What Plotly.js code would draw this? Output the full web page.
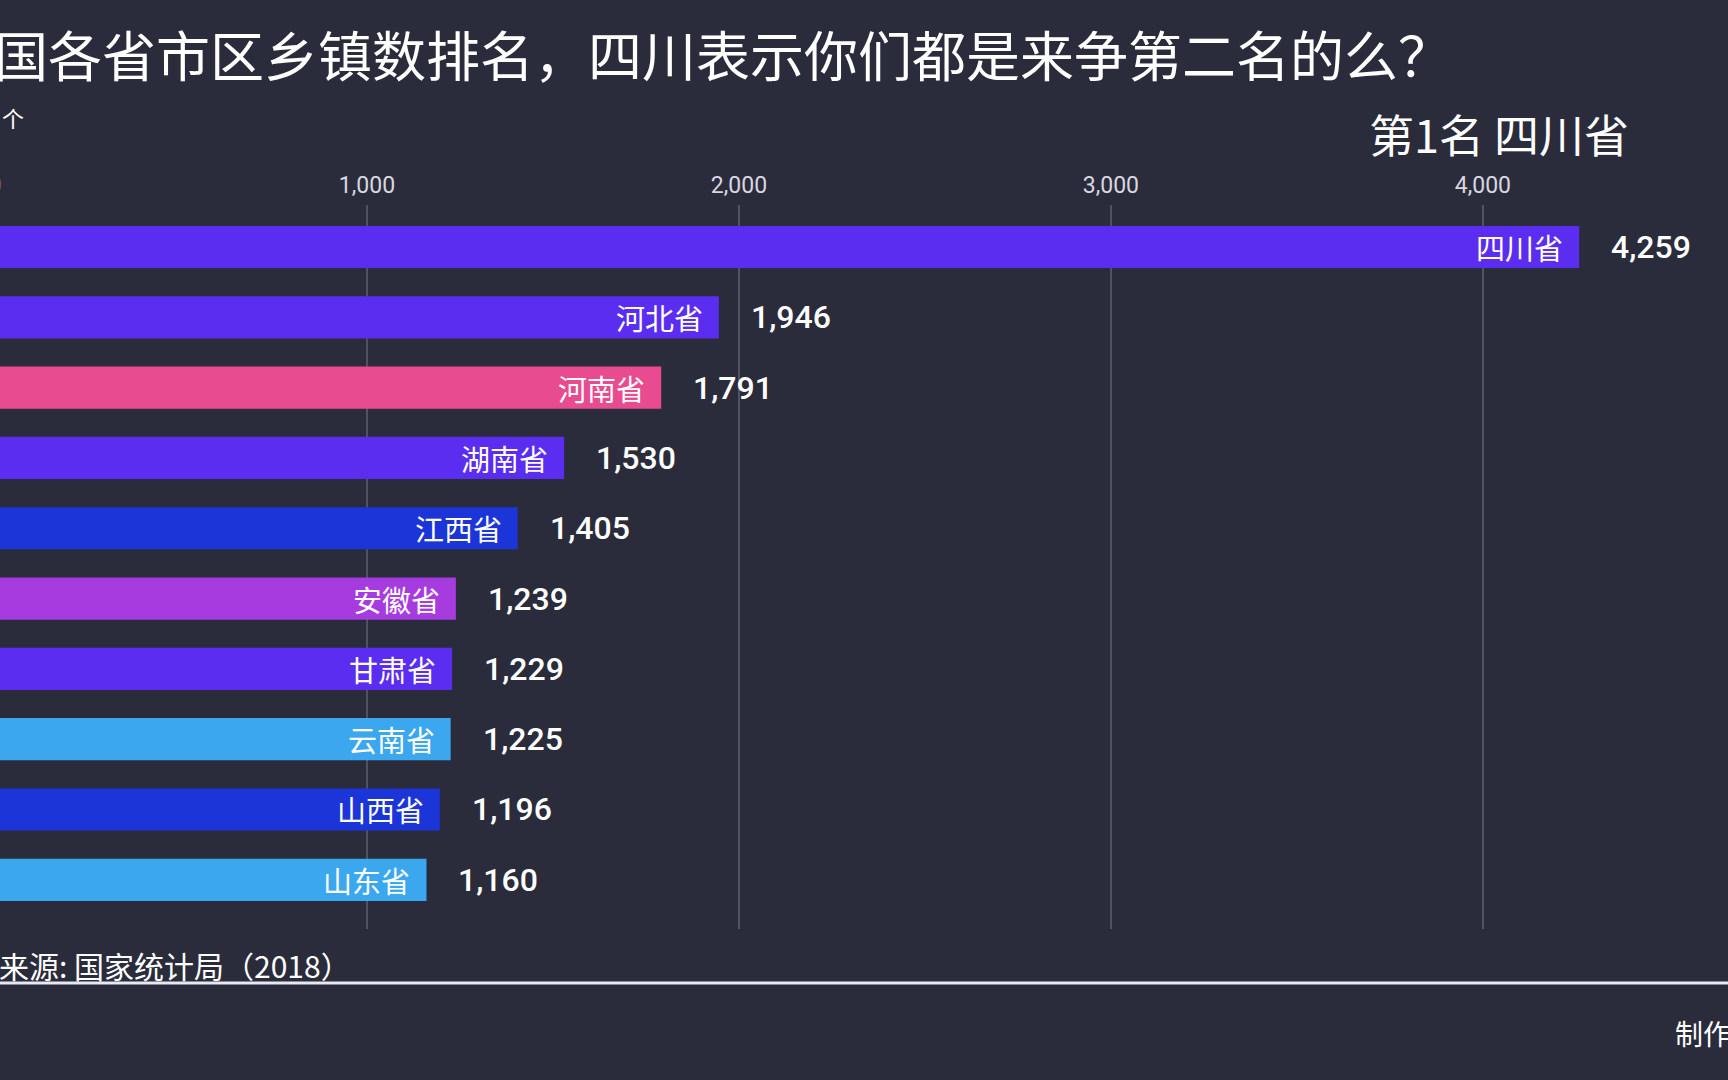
<!DOCTYPE html>
<html>
<head>
<meta charset="utf-8">
<script src="https://cdn.plot.ly/plotly-3.0.1.min.js"></script>
<style>
  html, body { margin: 0; padding: 0; background: #2b2c3b; overflow: hidden; }
  #chart { position: absolute; left: -30px; top: 0; width: 1758px; height: 1080px; }
</style>
</head>
<body>
<div id="chart"></div>
<script>
// 乡镇数 by province (2018)
var provinces = ["四川省", "河北省", "河南省", "湖南省", "江西省", "安徽省", "甘肃省", "云南省", "山西省", "山东省"];
var towns = [4259, 1946, 1791, 1530, 1405, 1239, 1229, 1225, 1196, 1160];
var barColors = ["#5a2df0", "#5a2df0", "#e84b8f", "#5a2df0", "#1b35d8",
                 "#a63be0", "#5a2df0", "#3aa7ee", "#1b35d8", "#3aa7ee"];
var tickVals = [0, 1000, 2000, 3000, 4000];

var cjk = "Noto Sans CJK SC";
var num = "Roboto";

// page pixel -> paper coords (plot area: x -5..1728, y 205..929)
function px(x) { return (x + 5) / 1733; }
function py(y) { return (929 - y) / 724; }

var trace = {
    x: towns,
    y: provinces,
    type: "bar",
    orientation: "h",
    width: 0.6,
    marker: {color: barColors},
    hoverinfo: "none"
};

var annotations = [];
provinces.forEach(function(p, i) {
    annotations.push({
        x: towns[i], y: p, xref: "x", yref: "y",
        text: p, showarrow: false, xanchor: "right", xshift: -14,
        font: {family: cjk, size: 29, color: "#ffffff"}
    });
    annotations.push({
        x: towns[i], y: p, xref: "x", yref: "y",
        text: towns[i].toLocaleString("en-US"), showarrow: false,
        xanchor: "left", xshift: 30,
        font: {family: num, size: 32, color: "#ffffff", weight: 500}
    });
});

annotations.push({
    x: px(-8), y: py(53), xref: "paper", yref: "paper",
    text: "国各省市区乡镇数排名，四川表示你们都是来争第二名的么？",
    showarrow: false, xanchor: "left", yanchor: "middle",
    font: {family: cjk, size: 54, color: "#ffffff"}
});
annotations.push({
    x: px(0), y: py(117), xref: "paper", yref: "paper",
    text: "个", showarrow: false, xanchor: "left", yanchor: "middle",
    font: {family: cjk, size: 22, color: "#ffffff"}
});
annotations.push({
    x: px(1631), y: py(134), xref: "paper", yref: "paper",
    text: "第1名 四川省", showarrow: false, xanchor: "right", yanchor: "middle",
    font: {family: cjk, size: 45, color: "#ffffff"}
});
annotations.push({
    x: px(-3), y: py(965), xref: "paper", yref: "paper",
    text: "来源: 国家统计局（2018）", showarrow: false, xanchor: "left", yanchor: "middle",
    font: {family: cjk, size: 30, color: "#ffffff"}
});
annotations.push({
    x: px(1673), y: py(1033), xref: "paper", yref: "paper",
    text: "制作", showarrow: false, xanchor: "left", yanchor: "middle",
    font: {family: cjk, size: 28, color: "#ffffff"}
});

var layout = {
    width: 1758,
    height: 1080,
    margin: {l: 25, r: 0, t: 205, b: 151, pad: 0},
    paper_bgcolor: "#2b2c3b",
    plot_bgcolor: "#2b2c3b",
    showlegend: false,
    xaxis: {
        range: [0, 4659],
        side: "top",
        tickvals: tickVals,
        tickformat: ",d",
        ticks: "",
        ticklabelstandoff: 6,
        tickfont: {family: num, size: 23, color: "#d8d8e0"},
        showgrid: true,
        gridcolor: "#50525f",
        gridwidth: 1.5,
        zeroline: false,
        showline: false,
        fixedrange: true
    },
    yaxis: {
        type: "category",
        range: [9.70, -0.597],
        visible: false,
        fixedrange: true
    },
    shapes: [{
        type: "line", xref: "paper", yref: "paper",
        x0: -0.05, x1: 1.05, y0: py(983), y1: py(983),
        line: {color: "#e8e8f4", width: 3}
    }],
    annotations: annotations
};

Plotly.newPlot("chart", [trace], layout, {displayModeBar: false, staticPlot: true});
</script>
</body>
</html>
